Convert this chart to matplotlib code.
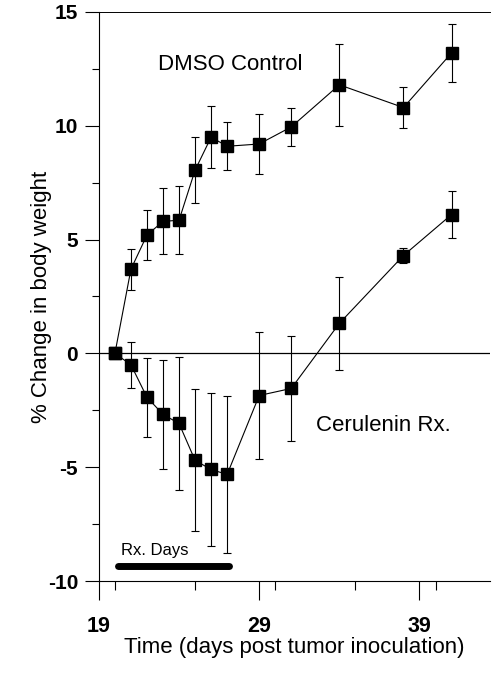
import matplotlib
matplotlib.use("Agg")
import matplotlib.pyplot as plt
from matplotlib.ticker import MultipleLocator

plt.rcParams["font.family"] = ["Liberation Sans", "DejaVu Sans"]
plt.rcParams["axes.unicode_minus"] = False

days = [20, 21, 22, 23, 24, 25, 26, 27, 29, 31, 34, 38, 41]
control = [0, 3.7, 5.2, 5.8, 5.85, 8.05, 9.5, 9.1, 9.2, 9.95, 11.8, 10.8, 13.2]
control_err = [0, 0.9, 1.1, 1.45, 1.5, 1.45, 1.35, 1.05, 1.3, 0.85, 1.8, 0.9, 1.27]
cerulenin = [0, -0.5, -1.93, -2.68, -3.08, -4.7, -5.1, -5.32, -1.85, -1.54, 1.32, 4.3, 6.1]
cerulenin_err = [0, 1.0, 1.73, 2.38, 2.93, 3.12, 3.37, 3.43, 2.77, 2.3, 2.05, 0.35, 1.02]

rx_days = [20.2, 27.1]  # treatment period bar
x_ticks = [19, 29, 39]
y_ticks = [-10, -5, 0, 5, 10, 15]

fig = plt.figure(figsize=(4.92, 6.77), dpi=100)
ax = fig.add_axes([0.201, 0.1418, 0.795, 0.8405])

for vals, errs in [(control, control_err), (cerulenin, cerulenin_err)]:
    ax.errorbar(days, vals, yerr=errs, color="black", marker="s", markersize=8,
                linewidth=0.8, elinewidth=0.8, capsize=3, capthick=0.8)

ax.axhline(0, color="black", linewidth=0.9, zorder=0)

# Rx. days bar
ax.plot(rx_days, [-9.36, -9.36], color="black", linewidth=5, solid_capstyle="round")
ax.text(20.4, -8.85, "Rx. Days", fontsize=12, va="baseline", ha="left")

ax.text(22.7, 12.43, "DMSO Control", fontsize=16, va="baseline", ha="left")
ax.text(32.55, -3.43, "Cerulenin Rx.", fontsize=16, va="baseline", ha="left")

ax.set_xlim(19, 43.4)
ax.set_ylim(-10, 15)
ax.set_xticks(x_ticks)
ax.xaxis.set_minor_locator(MultipleLocator(5))
ax.set_yticks(y_ticks)
ax.yaxis.set_minor_locator(MultipleLocator(2.5))

ax.tick_params(axis="x", which="major", length=14, width=0.8, pad=11,
               labelsize=15.5)
ax.tick_params(axis="x", which="minor", length=6.5, width=0.8)
ax.tick_params(axis="y", which="major", length=10, width=0.8, pad=5,
               labelsize=15)
ax.tick_params(axis="y", which="minor", length=5, width=0.8)
for lab in ax.get_xticklabels() + ax.get_yticklabels():
    lab.set_fontweight("bold")

ax.spines["right"].set_visible(False)
ax.spines["top"].set_linewidth(0.7)

ax.set_xlabel("Time (days post tumor inoculation)", fontsize=16, labelpad=0)
ax.set_ylabel("% Change in body weight", fontsize=16)
ax.yaxis.set_label_coords(-0.12, 0.5)

fig.savefig("out.png", dpi=100)
